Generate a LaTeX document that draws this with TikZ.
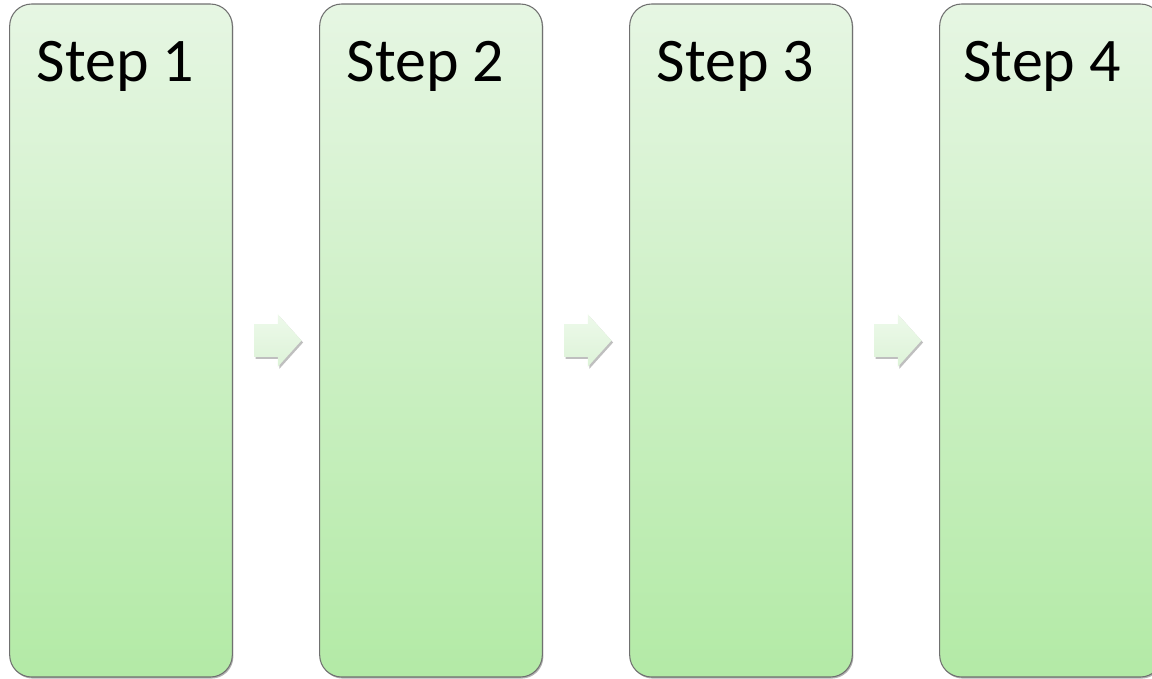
\documentclass[tikz,border=0pt]{standalone}
\usepackage{fontspec}
\setmainfont{Carlito}
\usetikzlibrary{shapes.arrows, shadows, calc}
\definecolor{stepTop}{HTML}{E6F6E3}
\definecolor{stepBottom}{HTML}{B3EAA6}
\definecolor{stepLine}{HTML}{707070}
\definecolor{arrowTop}{HTML}{EDF9EA}
\definecolor{arrowBottom}{HTML}{DDF3D8}
\tikzset{
  stepbox/.style={draw=stepLine, line width=0.8pt, rounded corners=16.5pt,
    minimum width=167pt, minimum height=504.75pt, inner sep=0pt,
    top color=stepTop, bottom color=stepBottom,
    drop shadow={shadow xshift=0.8pt, shadow yshift=-1.2pt, opacity=0.3, fill=black}},
  steplabel/.style={anchor=base west, inner sep=0pt, font=\fontsize{46.5}{56}\selectfont},
  steparrow/.style={single arrow, draw=none, anchor=tail, inner xsep=0pt, inner ysep=12pt,
    minimum height=35.5pt, single arrow head extend=7.5pt, single arrow tip angle=96,
    top color=arrowTop, bottom color=arrowBottom,
    drop shadow={shadow xshift=1.2pt, shadow yshift=-1.5pt, opacity=0.25, fill=black}}
}
\begin{document}
\begin{tikzpicture}[x=0.75pt, y=-0.75pt]
                \clip (0,0) rectangle (1152,678);
                \node[stepbox] (b1) at (121,340.5) {};
                \node[stepbox] (b2) at (431,340.5) {};
                \node[stepbox] (b3) at (741,340.5) {};
                \node[stepbox] (b4) at (1051,340.5) {};
                \node[steplabel] (t1) at ([xshift=20.5pt, yshift=-58.5pt]b1.north west) {Step 1};
                \node[steplabel] (t2) at ([xshift=20.5pt, yshift=-58.5pt]b2.north west) {Step 2};
                \node[steplabel] (t3) at ([xshift=20.5pt, yshift=-58.5pt]b3.north west) {Step 3};
                \node[steplabel] (t4) at ([xshift=18pt, yshift=-58.5pt]b4.north west) {Step 4};
                \node[steparrow] (a1) at ($(b1.east)+(21,0)$) {};
                \node[steparrow] (a2) at ($(b2.east)+(21,0)$) {};
                \node[steparrow] (a3) at ($(b3.east)+(21,0)$) {};
            \end{tikzpicture}
\end{document}
